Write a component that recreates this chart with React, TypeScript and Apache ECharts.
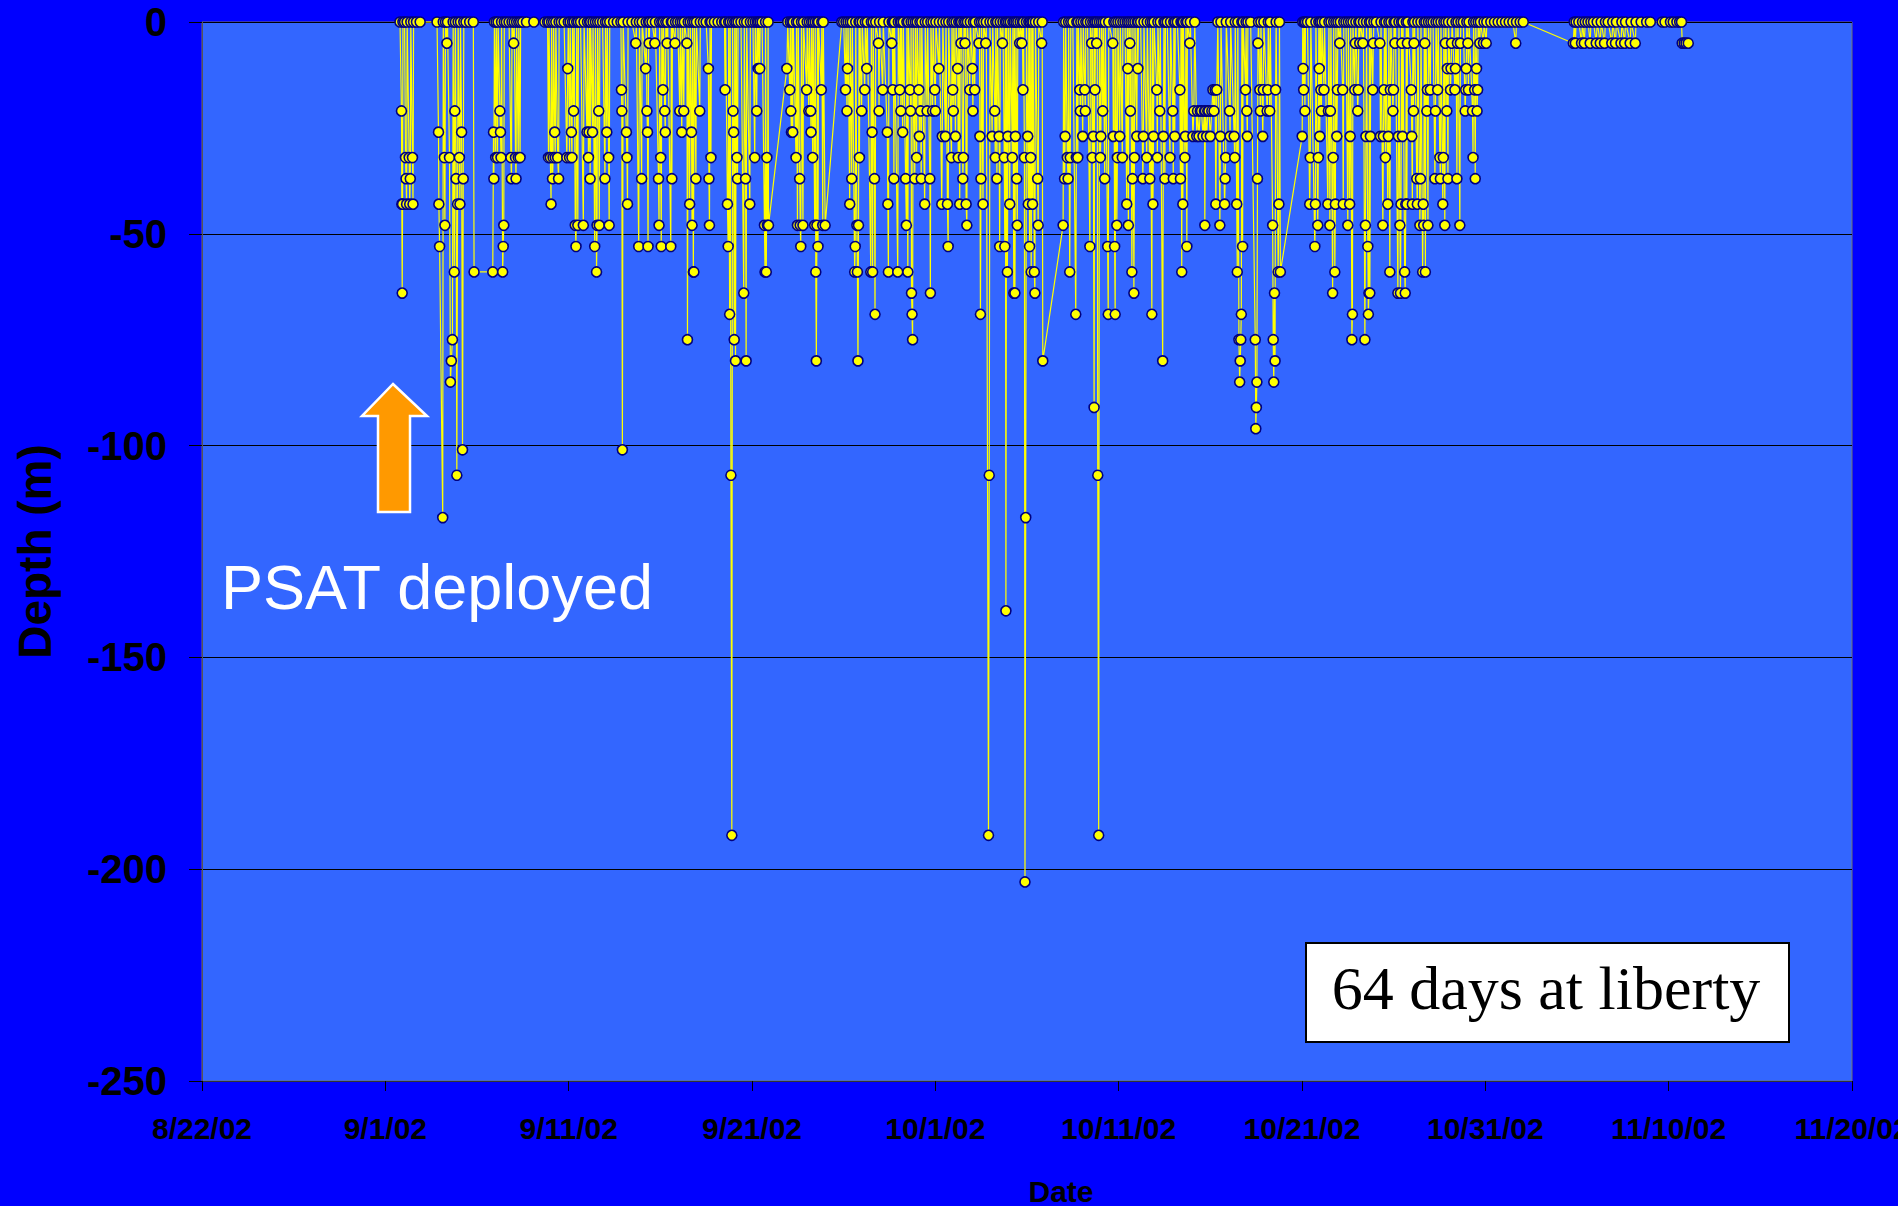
import React, { useEffect, useRef } from "react";
import * as echarts from "echarts";

// x values: days since 8/22/02 00:00 ; y values: depth in metres
const xTickLabels = ["8/22/02", "9/1/02", "9/11/02", "9/21/02", "10/1/02", "10/11/02", "10/21/02", "10/31/02", "11/10/02", "11/20/02"];
const yTicks = [0, -50, -100, -150, -200, -250];

const earlySep = [
  [10.80,0],[10.88,-21],[10.90,-43],[10.92,-64],[10.94,-43],[10.96,0],
  [11.05,0],[11.10,-32],[11.13,-37],[11.16,-43],[11.19,0],
  [11.30,-32],[11.33,-43],[11.36,-37],[11.39,0],
  [11.48,-32],[11.51,-43],[11.54,0],
  [11.70,0],[11.90,0],[12.82,0],
  [12.90,-26],[12.92,-43],[12.96,-53],[13.13,-117],[13.16,0],
  [13.22,-32],[13.25,-48],[13.28,0],
  [13.36,-5],[13.39,0],
  [13.50,-32],[13.55,-85],[13.60,-80],[13.66,-75],[13.70,0],
  [13.76,-59],[13.79,-21],[13.82,0],
  [13.86,-37],[13.90,-107],[13.94,-43],[13.97,0],
  [14.04,-32],[14.07,-43],[14.10,0],
  [14.16,-26],[14.21,-101],[14.25,-37],[14.28,0],
  [14.40,0],[14.60,0],[14.80,0],[14.84,-59],[15.86,-59],[15.90,-26],[15.92,-37],[15.95,0],
  [16.02,-32],[16.05,0],[16.12,-32],[16.15,0],[16.25,-21],[16.28,-26],[16.31,-32],[16.34,0],
  [16.40,-59],[16.43,-53],[16.46,-48],[16.49,0],[16.60,0],[16.75,0],
  [16.85,-32],[16.88,-37],[16.91,0],[17.00,-5],[17.03,0],[17.10,-32],[17.13,-37],[17.16,0],[17.25,-32],[17.28,0],[17.35,-32],[17.38,0],
  [17.50,0],[17.70,0],[18.10,0],[18.70,0]
];

const midSep = [
  [18.85,0],[18.90,-32],[18.93,0],[19.00,-32],[19.04,-43],[19.07,0],[19.12,-37],[19.15,-32],[19.18,0],[19.24,-26],[19.27,-32],[19.30,0],[19.40,-32],[19.45,-37],[19.48,0],
  [19.60,0],[19.75,0],[19.90,-32],[19.95,-11],[19.98,0],[20.05,-32],[20.08,0],[20.15,-26],[20.18,-32],[20.21,0],[20.27,-21],[20.30,0],[20.36,-48],[20.40,-53],[20.44,0],[20.50,-48],[20.53,0],[20.65,0],[20.80,-48],[20.84,0],
  [21.00,-26],[21.03,0],[21.08,-32],[21.11,-26],[21.14,0],[21.17,-37],[21.20,0],[21.30,-26],[21.33,0],[21.42,-53],[21.46,0],[21.52,-59],[21.55,-48],[21.58,0],[21.64,-21],[21.67,-48],[21.70,0],[21.85,0],
  [21.98,-37],[22.01,0],[22.08,-26],[22.11,0],[22.18,-32],[22.21,-48],[22.24,0],[22.45,0],[22.65,0],
  [22.85,0],[22.88,-16],[22.90,-21],[22.93,-101],[22.97,0],
  [23.15,-26],[23.18,-32],[23.21,-43],[23.24,0],[23.45,0],
  [23.66,-5],[23.69,0],[23.82,-53],[23.86,0],[23.98,-37],[24.01,0],
  [24.20,-11],[24.23,0],[24.27,-21],[24.30,-26],[24.33,-53],[24.36,0],[24.39,-5],[24.42,0],[24.55,0],
  [24.70,-5],[24.73,0],[24.90,-37],[24.93,-48],[24.96,0],[25.02,-32],[25.05,-53],[25.08,0],[25.14,-16],[25.17,0],[25.24,-21],[25.27,-26],[25.30,0],[25.37,-5],[25.40,0],
  [25.57,-53],[25.60,0],[25.63,-37],[25.66,0],[25.80,-5],[25.83,0],[25.95,0]
];

const lateSep = [
  [26.06,-21],[26.09,0],[26.17,-26],[26.20,0],[26.28,-21],[26.31,0],[26.45,-5],[26.48,-75],[26.52,0],[26.60,-43],[26.63,0],[26.70,-26],[26.73,-48],[26.76,0],[26.80,-59],[26.83,-59],[26.86,0],[26.94,-37],[26.97,0],
  [27.15,-21],[27.18,0],[27.35,0],[27.50,0],[27.62,-11],[27.65,-37],[27.68,-48],[27.71,0],[27.76,-32],[27.79,0],[27.95,0],[28.15,0],[28.35,0],
  [28.50,0],[28.53,-16],[28.56,0],[28.66,-43],[28.70,-53],[28.73,0],[28.78,-69],[28.81,0],[28.85,-107],[28.90,-192],[28.94,0],[28.97,-21],[29.00,-26],[29.03,-75],[29.06,0],[29.10,-80],[29.14,0],[29.18,-32],[29.21,-37],[29.24,0],[29.40,0],
  [29.55,-64],[29.58,0],[29.65,-37],[29.68,-80],[29.71,0],[29.88,-43],[29.91,0],[30.05,0],[30.15,-32],[30.18,0],[30.26,-21],[30.29,0],[30.33,-11],[30.36,0],
  [30.42,-11],[30.45,0],[30.55,0],[30.68,-48],[30.71,-59],[30.74,0],[30.78,-59],[30.81,-32],[30.84,-48],[30.88,0],[30.90,-48],
  [31.90,-11],[31.95,0],[32.06,-16],[32.09,0],[32.12,-21],[32.15,-26],[32.18,0],[32.22,-26],[32.25,0],[32.40,-32],[32.43,0],[32.48,-48],[32.52,0],[32.60,-37],[32.63,-48],[32.66,-53],[32.70,0],[32.78,-48],[32.81,0]
];

const earlyOct = [
  [32.98,-16],[33.01,0],[33.10,-21],[33.13,0],[33.20,-21],[33.22,-26],[33.25,0],[33.31,-32],[33.34,0],[33.42,-48],[33.45,0],[33.48,-59],[33.51,-80],[33.54,-48],[33.57,0],[33.60,-53],[33.63,0],[33.78,-16],[33.81,0],[33.86,-48],[33.89,0],[33.99,-48],
  [34.90,0],[35.00,0],
  [35.10,-16],[35.13,0],[35.18,-21],[35.21,-11],[35.24,0],[35.33,-43],[35.36,0],[35.44,-37],[35.47,0],[35.60,-59],[35.63,-53],[35.66,0],[35.72,-48],[35.75,-59],[35.78,-80],[35.81,-48],[35.84,0],[35.86,-32],[35.89,0],
  [35.98,-21],[36.01,0],[36.15,-16],[36.18,0],[36.26,-11],[36.29,0],[36.48,-59],[36.51,0],[36.55,-26],[36.58,-59],[36.61,0],[36.68,-37],[36.71,-69],[36.75,0],
  [36.90,-5],[36.93,-21],[36.96,0],[37.13,-16],[37.16,0],[37.38,-26],[37.41,-43],[37.44,-59],[37.47,0],[37.62,-5],[37.65,0],[37.68,-16],[37.71,0],[37.74,-37],[37.77,0],[37.95,-59],[37.98,0],
  [38.06,-16],[38.09,0],[38.12,-21],[38.15,0],[38.22,-26],[38.25,0],[38.38,-37],[38.42,-48],[38.45,0],[38.50,-59],[38.53,0],[38.62,-16],[38.65,-21],[38.68,0],[38.70,-64],[38.73,-69],[38.76,-75],[38.79,0],[38.88,-37],[38.91,0],[38.98,-32],[39.01,0]
];

const midOct = [
  [39.10,-16],[39.13,-27],[39.16,0],[39.20,-21],[39.23,-37],[39.26,0],[39.42,-43],[39.45,0],[39.55,-21],[39.58,0],[39.70,-37],[39.73,-64],[39.76,0],[39.85,-21],[39.88,0],[39.97,-16],[40.00,-21],[40.03,0],[40.19,-11],[40.22,0],[40.35,-43],[40.38,-27],[40.41,0],[40.55,-27],[40.58,0],[40.66,-43],[40.70,-53],[40.73,0],[40.88,-32],[40.91,0],[40.95,-16],[40.98,-21],[41.01,0],[41.10,-27],[41.13,0],[41.22,-11],[41.25,-32],[41.28,0],
  [41.33,-43],[41.36,0],[41.40,-5],[41.43,0],[41.50,-37],[41.53,-32],[41.56,0],[41.62,-5],[41.65,0],[41.68,-43],[41.72,-48],[41.75,0],[41.88,-16],[41.91,0],[42.02,-11],[42.05,-21],[42.08,0],[42.15,-16],[42.18,0],
  [42.38,-5],[42.41,0],[42.43,-27],[42.46,-69],[42.49,-37],[42.52,0],[42.60,-43],[42.63,0],[42.75,-5],[42.78,0],[42.90,-192],[42.94,-107],[42.98,0],
  [43.10,-27],[43.13,0],[43.24,-21],[43.27,-32],[43.30,0],[43.36,-37],[43.39,0],[43.48,-27],[43.51,-53],[43.54,0],[43.66,-5],[43.69,0],[43.76,-32],[43.79,-53],[43.82,0],[43.85,-139],[43.89,0],[43.93,-59],[43.96,-27],[43.99,0],[44.06,-43],[44.09,0],[44.20,-32],[44.23,0],[44.28,-64],[44.31,0],[44.34,-64],[44.37,-27],[44.40,0],[44.44,-37],[44.47,-48],[44.50,0],
  [44.60,-5],[44.63,0],[44.72,-5],[44.75,0],[44.78,-16],[44.81,0],[44.86,-32],[44.89,-203],[44.93,-117],[44.97,0],[45.04,-27],[45.07,-43],[45.10,0],[45.14,-53],[45.17,0],[45.20,-32],[45.23,-59],[45.26,0],[45.30,-43],[45.33,0],[45.40,-59],[45.43,-64],[45.46,0],[45.58,-37],[45.61,-48],[45.64,0],[45.80,-5],[45.83,0],[45.86,-80],
  [46.97,-48]
];

const lateMidOct = [
  [47.00,0],[47.05,-37],[47.08,-27],[47.11,0],[47.20,-32],[47.24,-37],[47.27,0],[47.33,-59],[47.36,-32],[47.39,0],[47.50,0],[47.66,-69],[47.69,-32],[47.72,0],[47.77,-32],[47.80,0],[47.88,-16],[47.91,-21],[47.94,0],[48.04,-27],[48.07,0],[48.15,-16],[48.18,-21],[48.21,0],[48.30,0],[48.43,-53],[48.46,0],[48.53,-5],[48.56,-32],[48.59,0],[48.62,-27],[48.66,-91],[48.69,0],[48.71,-16],[48.74,0],[48.80,-5],[48.83,0],[48.86,-107],[48.91,-192],[48.95,0],[49.00,-32],[49.03,-27],[49.06,0],[49.13,-21],[49.16,0],[49.24,-37],[49.27,0],[49.40,-53],[49.43,-69],[49.46,0],[49.68,-5],[49.71,-27],[49.74,0],[49.78,-53],[49.81,-69],[49.84,0],[49.90,-48],[49.93,-32],[49.96,0],[50.06,-27],[50.09,0],[50.20,-32],[50.23,0],[50.35,0],
  [50.44,-43],[50.47,0],[50.50,-11],[50.53,-48],[50.56,0],[50.61,-5],[50.64,-21],[50.67,0],[50.72,-59],[50.75,-37],[50.78,0],[50.83,-64],[50.86,-32],[50.89,0],[50.99,-27],[51.02,0],[51.05,-11],[51.08,0],[51.20,0],[51.32,-37],[51.35,-27],[51.38,0],[51.53,-32],[51.56,0],[51.70,-37],[51.73,0],
  [51.81,-69],[51.84,0],[51.87,-43],[51.90,-27],[51.93,0],[52.08,-16],[52.11,-32],[52.14,0],[52.24,-21],[52.27,0],[52.40,-80],[52.44,-27],[52.47,0],[52.52,-37],[52.55,0],[52.65,0],
  [52.80,-32],[52.83,0],[52.95,-21],[52.98,-37],[53.01,0],[53.06,-27],[53.09,0],[53.20,0],[53.34,-16],[53.37,-37],[53.40,0],[53.44,-59],[53.47,0],[53.50,-43],[53.53,0],[53.61,-32],[53.64,-27],[53.67,0],[53.72,-53],[53.75,0],[53.88,-5],[53.91,0],
  [54.05,-27],[54.10,-21],[54.15,0],[54.26,-27],[54.30,-21],[54.38,-27],[54.45,-21],[54.52,-21],[54.60,-27],[54.68,-21],[54.70,-48],[54.73,-21],[54.80,-27],[54.86,-21],[54.92,-21],[55.00,-27],[55.08,-21],[55.14,-16],[55.20,-21],[55.26,-16],[55.30,-43],[55.35,-16],[55.41,0]
];

const lateOct = [
  [55.52,-48],[55.55,-27],[55.58,0],[55.78,-43],[55.81,-37],[55.84,-32],[55.87,0],[56.05,-21],[56.08,-27],[56.11,0],[56.30,-27],[56.33,-32],[56.36,0],[56.44,-43],[56.47,-59],[56.50,0],[56.56,-75],[56.60,-85],[56.63,-80],[56.66,-75],[56.69,-69],[56.72,0],[56.76,-53],[56.79,0],[56.92,-16],[56.95,0],[56.99,-21],[57.02,-27],[57.05,0],[57.20,0],
  [57.45,-75],[57.48,-96],[57.51,-91],[57.54,-85],[57.57,-37],[57.60,-5],[57.63,0],[57.70,-16],[57.73,-21],[57.76,0],[57.86,-27],[57.89,-16],[57.92,0],[58.10,-21],[58.13,-16],[58.16,0],[58.24,-21],[58.27,0],
  [58.40,-48],[58.43,-75],[58.46,-85],[58.50,-64],[58.53,-80],[58.56,-16],[58.59,0],[58.70,-59],[58.74,-43],[58.77,0],[58.82,-59],
  [60.01,-27],[60.04,0],[60.06,-11],[60.09,-16],[60.12,0],[60.16,-21],[60.19,0],[60.30,0],[60.42,-43],[60.45,-32],[60.48,0],[60.70,-53],[60.73,-43],[60.76,0],[60.86,-48],[60.89,-32],[60.92,0],[60.94,-11],[60.97,-27],[61.00,0],[61.03,-16],[61.06,-21],[61.09,0],[61.20,-16],[61.23,0],[61.41,-43],[61.44,-21],[61.47,0],[61.52,-48],[61.55,-21],[61.58,0],[61.67,-64],[61.70,-32],[61.73,0],[61.79,-59],[61.82,-43],[61.85,0],[61.90,-27],[61.93,-16],[61.96,0],[62.06,-5],[62.09,0],[62.22,-16],[62.25,-43],[62.28,0],[62.40,0],[62.50,-48],[62.53,0],[62.60,-43],[62.63,-27],[62.66,0],[62.72,-75],[62.75,-69],[62.78,0],[62.88,-16],[62.91,-5],[62.94,0]
];

const earlyNov = [
  [63.04,-21],[63.07,-16],[63.10,0],[63.15,-5],[63.18,0],[63.32,-5],[63.35,0],[63.43,-75],[63.46,-48],[63.49,-27],[63.52,0],[63.59,-53],[63.62,-69],[63.65,-64],[63.68,0],[63.70,-64],[63.73,-27],[63.76,0],[63.86,-16],[63.89,-5],[63.92,0],[64.05,0],[64.25,-5],[64.28,-27],[64.31,0],[64.41,-48],[64.44,-27],[64.47,-16],[64.50,0],[64.55,-32],[64.58,0],[64.68,-43],[64.71,-27],[64.74,0],[64.79,-59],[64.82,-16],[64.85,0],[64.96,-21],[64.99,-16],[65.02,0],[65.07,-5],[65.10,0],[65.23,-64],[65.26,-27],[65.29,0],
  [65.34,-48],[65.37,-64],[65.40,-43],[65.43,0],[65.45,-5],[65.48,-27],[65.51,0],[65.60,-59],[65.63,-64],[65.66,-43],[65.69,0],[65.72,-43],[65.75,-5],[65.78,0],[65.96,-16],[65.99,-27],[66.02,-43],[66.05,0],[66.08,-21],[66.11,-5],[66.14,0],[66.26,-37],[66.29,-43],[66.32,0],[66.43,-48],[66.46,-37],[66.49,0],[66.58,-59],[66.61,-43],[66.64,-48],[66.67,0],[66.70,-5],[66.73,-59],[66.76,0],[66.81,-21],[66.84,-16],[66.87,-48],[66.90,0],[67.00,-16],[67.03,0],[67.15,0],[67.25,-37],[67.28,-21],[67.31,0],[67.40,-16],[67.43,0],[67.52,-32],[67.55,-37],[67.58,0],[67.68,-43],[67.71,-32],[67.74,0],[67.79,-48],[67.82,-5],[67.85,0],[67.90,-21],[67.93,-11],[67.96,-37],[67.99,0],[68.10,-16],[68.13,-11],[68.16,-5],[68.19,0],[68.34,-16],[68.37,-11],[68.40,0],[68.45,-37],[68.48,-5],[68.51,0],[68.61,-48],[68.64,-5],[68.67,0],[68.80,0],[68.90,-21],[68.93,-16],[68.96,-11],[68.99,0],[69.05,-5],[69.08,-16],[69.11,0],[69.30,-21],[69.33,-32],[69.36,0],[69.42,-16],[69.45,-37],[69.48,0],[69.52,-11],[69.55,-21],[69.58,-16],[69.61,0],[69.70,-5],[69.73,0],[69.90,-5],[69.93,0],[70.05,-5],[70.08,0]
];

const novTail = [
  [70.30,0],[70.50,0],[70.70,0],[70.90,0],[71.10,0],[71.30,0],[71.50,0],[71.66,-5],[71.70,0],[71.90,0],[72.07,0],
  [74.80,-5],[74.85,0],[74.91,-5],[74.95,0],[75.10,0],[75.25,-5],[75.30,0],[75.40,-5],[75.45,0],[75.60,0],[75.72,-5],[75.76,0],[75.90,0],[76.05,-5],[76.10,0],[76.27,-5],[76.32,0],[76.50,-5],[76.55,0],[76.70,0],[76.90,-5],[76.95,0],[77.10,-5],[77.15,0],[77.40,-5],[77.45,0],[77.60,-5],[77.65,0],[77.90,-5],[77.95,0],[78.18,-5],[78.22,0],[78.50,0],[78.80,0],[79.00,0],[79.65,0],[79.80,0],[80.10,0],[80.25,0],[80.45,0],[80.60,0],[80.70,0],[80.74,-5],[80.85,-5],[80.95,-5],[81.07,-5]
];

const depthRecord = [...earlySep, ...midSep, ...lateSep, ...earlyOct, ...midOct, ...lateMidOct, ...lateOct, ...earlyNov, ...novTail]
  .slice()
  .sort((a, b) => a[0] - b[0]);

const SANS = '"Liberation Sans", Arial, Helvetica, sans-serif';
const SERIF = '"Liberation Serif", "Times New Roman", Times, serif';
const W = 1898;
const H = 1206;

export default function App() {
  const ref = useRef<HTMLDivElement>(null);
  useEffect(() => {
    if (!ref.current) return;
    document.body.style.margin = "0";
    const chart = echarts.init(ref.current, null, { renderer: "svg", width: W, height: H });
    chart.setOption({
      animation: false,
      backgroundColor: "#0000FF",
      grid: {
        left: 202, right: 46, top: 22, bottom: 125,
        outerBoundsMode: "none",
        containLabel: false,
        show: true, backgroundColor: "#3366FF", borderColor: "#707070", borderWidth: 1,
      },
      xAxis: {
        type: "value", min: 0, max: 90, interval: 10,
        name: "Date", nameLocation: "middle", nameGap: 95,
        nameTextStyle: { fontFamily: SANS, fontWeight: "bold", fontSize: 30, color: "#000", padding: [0, 0, 0, 68] },
        axisLine: { show: true, onZero: false, lineStyle: { color: "#333333", width: 1 } },
        axisTick: { show: true, length: 10, lineStyle: { color: "#000", width: 1 } },
        axisLabel: {
          formatter: (v: number) => xTickLabels[Math.round(v / 10)] ?? "",
          fontFamily: SANS, fontWeight: "bold", fontSize: 30, color: "#000", margin: 32,
          showMinLabel: true, showMaxLabel: true, hideOverlap: false,
        },
        splitLine: { show: false },
      },
      yAxis: {
        type: "value", min: yTicks[yTicks.length - 1], max: yTicks[0], interval: 50,
        name: "Depth (m)", nameLocation: "middle", nameGap: 144, nameRotate: 90,
        nameTextStyle: { fontFamily: SANS, fontWeight: "bold", fontSize: 46, color: "#000" },
        axisLine: { show: true, onZero: false, lineStyle: { color: "#555555", width: 1 } },
        axisTick: { show: true, length: 13, lineStyle: { color: "#000", width: 1 } },
        axisLabel: { fontFamily: SANS, fontWeight: "bold", fontSize: 40, color: "#000", margin: 35 },
        splitLine: { show: true, lineStyle: { color: "#000", width: 1 } },
      },
      series: [
        {
          type: "line",
          name: "Depth",
          data: depthRecord,
          symbol: "circle",
          symbolSize: 10,
          showSymbol: true,
          showAllSymbol: true,
          clip: false,
          silent: true,
          lineStyle: { color: "#FFFF00", width: 1.2 },
          itemStyle: { color: "#FFFF00", borderColor: "#000080", borderWidth: 1.6 },
          emphasis: { disabled: true },
          z: 3,
        },
      ],
      graphic: [
        {
          type: "polygon",
          z: 10,
          shape: { points: [[393, 384], [427, 416], [410, 416], [410, 512], [378, 512], [378, 416], [362, 416]] },
          style: { fill: "#FF9900", stroke: "#FFFFFF", lineWidth: 2.5 },
        },
        {
          type: "text",
          z: 10,
          x: 221,
          y: 587,
          style: { text: "PSAT deployed", fill: "#FFFFFF", font: `63px ${SANS}`, textVerticalAlign: "middle", verticalAlign: "middle" },
        },
        {
          type: "rect",
          z: 10,
          shape: { x: 1306, y: 943, width: 483, height: 99 },
          style: { fill: "#FFFFFF", stroke: "#000000", lineWidth: 2 },
        },
        {
          type: "text",
          z: 11,
          x: 1546,
          y: 988,
          style: { text: "64 days at liberty", fill: "#000000", font: `62px ${SERIF}`, align: "center", verticalAlign: "middle", textAlign: "center", textVerticalAlign: "middle" },
        },
      ],
    });
    return () => chart.dispose();
  }, []);
  return <div ref={ref} style={{ position: "fixed", left: 0, top: 0, width: W, height: H }} />;
}
